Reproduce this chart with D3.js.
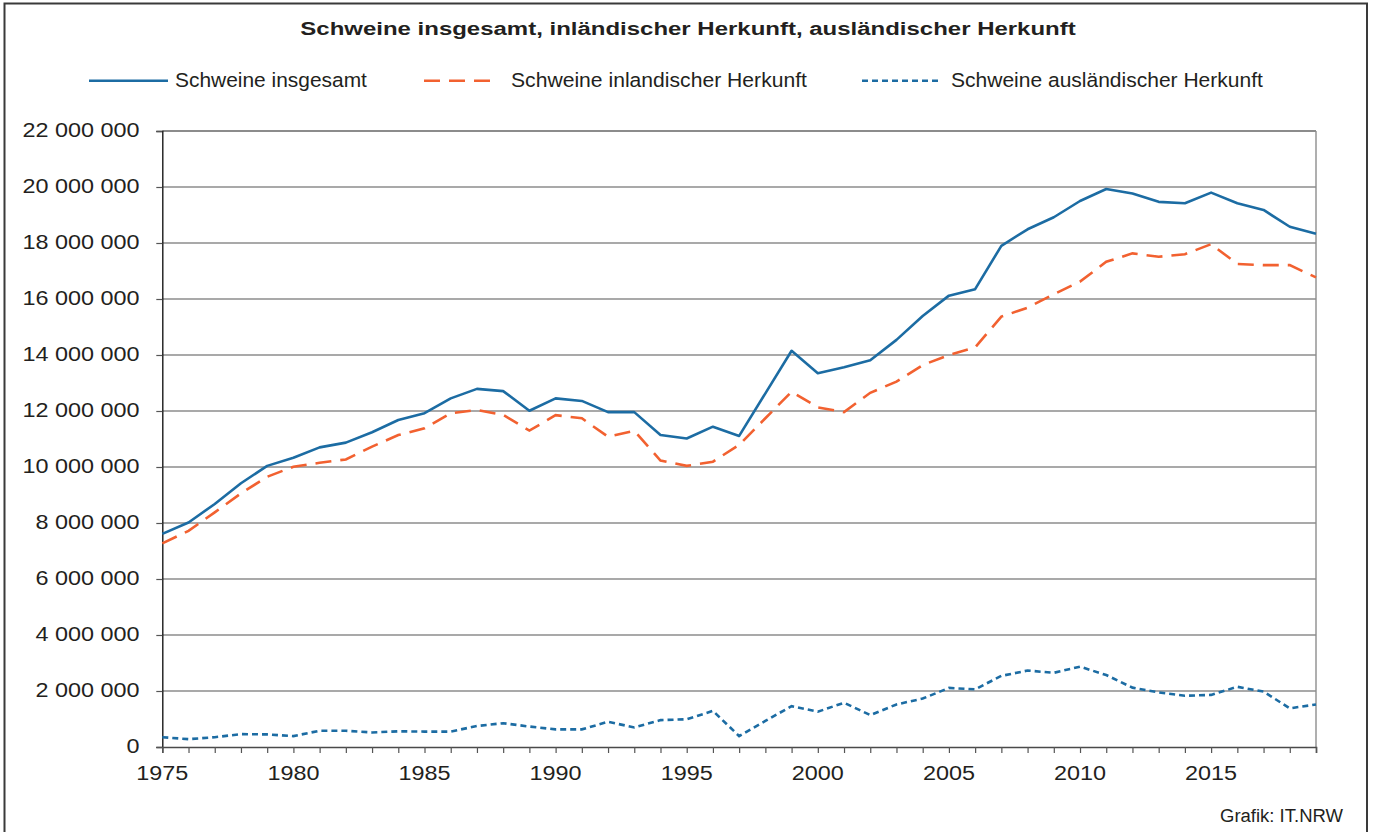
<!DOCTYPE html>
<html>
<head>
<meta charset="utf-8">
<script src="https://cdn.jsdelivr.net/npm/d3@7"></script>
<style>
  body { margin: 0; background: #fff; }
  svg text { font-family: "Liberation Sans", Arial, sans-serif; fill: #231f20; }
</style>
</head>
<body>
<svg id="chart" width="1375" height="832"></svg>
<script>
// Years on the x axis
const years = d3.range(1975, 2020);

// Schweine insgesamt
const totalPigs = [
  7.61, 8.02, 8.68, 9.42, 10.04, 10.33, 10.70, 10.87, 11.24, 11.68,
  11.92, 12.45, 12.79, 12.71, 12.01, 12.45, 12.36, 11.96, 11.96, 11.14,
  11.02, 11.44, 11.11, 12.63, 14.15, 13.35, 13.56, 13.81, 14.54, 15.39,
  16.12, 16.35, 17.90, 18.49, 18.92, 19.50, 19.93, 19.77, 19.47, 19.42,
  19.80, 19.42, 19.18, 18.58, 18.33
].map(v => v * 1e6);

// Schweine inländischer Herkunft
const domesticPigs = [
  7.27, 7.72, 8.38, 9.06, 9.65, 10.01, 10.15, 10.27, 10.73, 11.14,
  11.38, 11.92, 12.04, 11.86, 11.30, 11.85, 11.74, 11.08, 11.29, 10.23,
  10.04, 10.19, 10.79, 11.74, 12.69, 12.13, 11.96, 12.65, 13.05, 13.64,
  14.00, 14.27, 15.37, 15.69, 16.17, 16.62, 17.33, 17.63, 17.51, 17.60,
  17.96, 17.25, 17.21, 17.21, 16.77
].map(v => v * 1e6);

// Schweine ausländischer Herkunft
const foreignPigs = [
  0.35, 0.28, 0.35, 0.46, 0.45, 0.39, 0.58, 0.58, 0.52, 0.56,
  0.55, 0.55, 0.75, 0.85, 0.73, 0.63, 0.63, 0.90, 0.70, 0.96,
  0.99, 1.29, 0.39, 0.93, 1.46, 1.26, 1.58, 1.14, 1.52, 1.73,
  2.11, 2.06, 2.54, 2.73, 2.65, 2.87, 2.57, 2.12, 1.95, 1.83,
  1.86, 2.15, 1.98, 1.38, 1.52
].map(v => v * 1e6);

const yTicks = d3.range(0, 22000001, 2000000);
const xLabelYears = [1975, 1980, 1985, 1990, 1995, 2000, 2005, 2010, 2015];

const seriesNames = [
  "Schweine insgesamt",
  "Schweine inlandischer Herkunft",
  "Schweine ausländischer Herkunft"
];

const chartTitle = "Schweine insgesamt, inländischer Herkunft, ausländischer Herkunft";
const sourceNote = "Grafik: IT.NRW";

const blue = "#1c6ca3";
const orange = "#f26130";

const svg = d3.select("#chart");
const margin = { left: 162.3, right: 1316, top: 131, bottom: 747 };

const x = d3.scaleLinear().domain([1975, 2019]).range([margin.left, margin.right]);
const y = d3.scaleLinear().domain([0, 22000000]).range([margin.bottom, margin.top]);

// stretched text helper (the original typeface is wider than Arial)
function label(parent, px, py, str, opts) {
  const g = parent.append("g")
    .attr("transform", `translate(${px},${py}) scale(${opts.sx || 1},1)`);
  const t = g.append("text")
    .attr("text-anchor", opts.anchor || "start")
    .attr("dominant-baseline", opts.baseline || "auto")
    .style("font-size", (opts.size || 19.5) + "px")
    .style("font-weight", opts.weight || "normal")
    .text(str);
  if (opts.width) {
    const w = t.node().getComputedTextLength();
    g.attr("transform", `translate(${px},${py}) scale(${opts.width / w},1)`);
  }
  return t;
}

// outer frame
svg.append("rect")
  .attr("x", 4.5).attr("y", 3.5)
  .attr("width", 1362.5).attr("height", 840)
  .attr("fill", "none").attr("stroke", "#3a3a3a").attr("stroke-width", 2);

// grid
svg.append("g").selectAll("line")
  .data(yTicks.filter(d => d > 0 && d < 22000000))
  .enter().append("line")
    .attr("x1", margin.left).attr("x2", margin.right)
    .attr("y1", d => y(d)).attr("y2", d => y(d))
    .attr("stroke", "#8d8d8d").attr("stroke-width", 1.4);

// top and right border of the plot
svg.append("line")
  .attr("x1", margin.left).attr("x2", margin.right)
  .attr("y1", y(22000000)).attr("y2", y(22000000))
  .attr("stroke", "#1a1a1a").attr("stroke-width", 1.2);
svg.append("line")
  .attr("x1", margin.right).attr("x2", margin.right)
  .attr("y1", margin.top).attr("y2", margin.bottom)
  .attr("stroke", "#8d8d8d").attr("stroke-width", 1.4);

// y axis
const yAxis = svg.append("g")
  .attr("transform", `translate(${margin.left},0)`)
  .call(d3.axisLeft(y).tickValues(yTicks).tickSize(6).tickFormat(""));
yAxis.select(".domain").attr("stroke", "#1a1a1a").attr("stroke-width", 1.4);
yAxis.selectAll(".tick line").attr("stroke", "#555").attr("stroke-width", 1.2);

const fmt = d => d3.format(",")(d).replace(/,/g, " ");
yTicks.forEach(v => {
  label(svg, 139.5, y(v), fmt(v), { anchor: "end", baseline: "central", sx: 1.2 });
});

// x axis
const xAxis = svg.append("g")
  .attr("transform", `translate(0,${margin.bottom})`)
  .call(d3.axisBottom(x).tickValues(years).tickSize(6).tickFormat(""));
xAxis.select(".domain").attr("stroke", "#4a4a4a").attr("stroke-width", 1.6);
xAxis.selectAll(".tick line").attr("stroke", "#555").attr("stroke-width", 1.2);

xLabelYears.forEach(yr => {
  label(svg, x(yr), 779.5, String(yr), { anchor: "middle", sx: 1.2 });
});

// lines
const line = d3.line().x((d, i) => x(years[i])).y(d => y(d));

svg.append("path").datum(domesticPigs)
  .attr("d", line).attr("fill", "none")
  .attr("stroke", orange).attr("stroke-width", 2.6)
  .attr("stroke-dasharray", "16,9");

svg.append("path").datum(foreignPigs)
  .attr("d", line).attr("fill", "none")
  .attr("stroke", blue).attr("stroke-width", 2.6)
  .attr("stroke-dasharray", "6,4");

svg.append("path").datum(totalPigs)
  .attr("d", line).attr("fill", "none")
  .attr("stroke", blue).attr("stroke-width", 2.6)
  .attr("stroke-linejoin", "round");

// title
label(svg, 688, 35, chartTitle, { anchor: "middle", size: 18.5, weight: "bold", width: 776 });

// legend
const legendItems = [
  { name: seriesNames[0], x1: 89, x2: 168, tx: 175, w: 192, color: blue, dash: null },
  { name: seriesNames[1], x1: 424, x2: 492, tx: 511, w: 296, color: orange, dash: "16,9" },
  { name: seriesNames[2], x1: 862, x2: 942, tx: 951, w: 312, color: blue, dash: "6,4" }
];
legendItems.forEach(it => {
  svg.append("line")
    .attr("x1", it.x1).attr("x2", it.x2)
    .attr("y1", 80.7).attr("y2", 80.7)
    .attr("stroke", it.color).attr("stroke-width", 2.6)
    .attr("stroke-dasharray", it.dash);
  label(svg, it.tx, 87, it.name, { width: it.w });
});

// source note
label(svg, 1343, 821.5, sourceNote, { anchor: "end", size: 18, width: 123 });
</script>
</body>
</html>
